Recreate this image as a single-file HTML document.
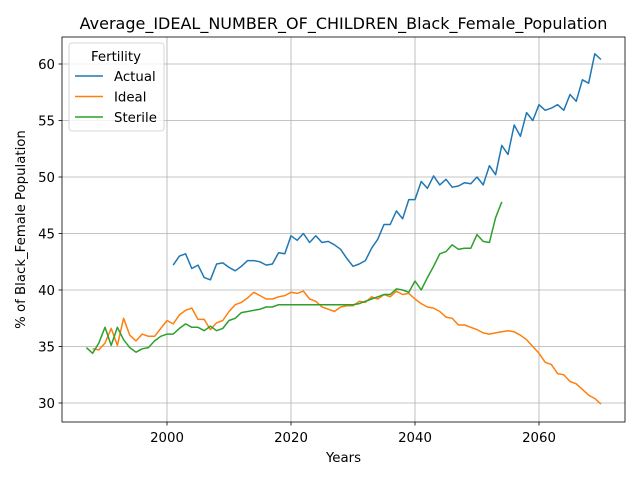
<!DOCTYPE html>
<html><head><meta charset="utf-8"><style>
body{margin:0;background:#fff;font-family:"Liberation Sans","DejaVu Sans",sans-serif;}
svg text{font-family:"DejaVu Sans","Liberation Sans",sans-serif;}
</style></head><body>
<svg id="chart" width="640" height="480" xmlns="http://www.w3.org/2000/svg"></svg>
<script>
const actualStart=2001;
const actualVals=[42.2,43.0,43.2,41.9,42.2,41.1,40.9,42.3,42.4,42.0,41.7,42.1,42.6,42.6,42.5,42.2,42.3,43.3,43.2,44.8,44.4,45.0,44.2,44.8,44.2,44.3,44.0,43.6,42.8,42.1,42.3,42.6,43.7,44.5,45.8,45.8,47.0,46.3,48.0,48.0,49.6,49.0,50.1,49.3,49.8,49.1,49.2,49.5,49.4,50.0,49.3,51.0,50.2,52.8,52.0,54.6,53.6,55.7,55.0,56.4,55.9,56.1,56.4,55.9,57.3,56.7,58.6,58.3,60.9,60.4];
const idealStart=1988;
const idealVals=[34.8,34.7,35.3,36.6,35.1,37.5,36.0,35.5,36.1,35.9,35.9,36.6,37.3,37.0,37.8,38.2,38.4,37.4,37.4,36.5,37.1,37.3,38.1,38.7,38.9,39.3,39.8,39.5,39.2,39.2,39.4,39.5,39.8,39.7,39.9,39.2,39.0,38.5,38.3,38.1,38.5,38.6,38.6,39.0,38.9,39.4,39.2,39.6,39.4,39.9,39.6,39.7,39.2,38.8,38.5,38.4,38.1,37.6,37.5,36.9,36.9,36.7,36.5,36.2,36.1,36.2,36.3,36.4,36.3,36.0,35.6,35.0,34.4,33.6,33.4,32.6,32.5,31.9,31.7,31.2,30.7,30.4,29.9];
const sterileStart=1987;
const sterileVals=[34.9,34.4,35.3,36.7,35.1,36.7,35.6,34.9,34.5,34.8,34.9,35.5,35.9,36.1,36.1,36.6,37.0,36.7,36.7,36.4,36.8,36.4,36.6,37.3,37.5,38.0,38.1,38.2,38.3,38.5,38.5,38.7,38.7,38.7,38.7,38.7,38.7,38.7,38.7,38.7,38.7,38.7,38.7,38.7,38.8,39.0,39.2,39.4,39.6,39.6,40.1,40.0,39.8,40.8,40.0,41.1,42.1,43.2,43.4,44.0,43.6,43.7,43.7,44.9,44.3,44.2,46.4,47.8];
const xTicks=[2000,2020,2040,2060];
const yTicks=[30,35,40,45,50,55,60];
const seriesNames=["Actual","Ideal","Sterile"];
const colors=["#1f77b4","#ff7f0e","#2ca02c"];

const NS="http://www.w3.org/2000/svg";
const svg=document.getElementById('chart');
const L=62,R=625,T=37,B=422;
const X=v=>167+(v-2000)*6.2;
const Y=v=>64+(60-v)*11.3;
function mk(tag,attrs,parent){const e=document.createElementNS(NS,tag);for(const k in attrs)e.setAttribute(k,attrs[k]);(parent||svg).appendChild(e);return e;}

const grid=mk('g',{});


xTicks.forEach(t=>{
  const l=mk('line',{x1:X(t),x2:X(t),y1:T,y2:B,stroke:'#b0b0b0','stroke-width':0.8},grid);
  
  
  const tk=mk('line',{x1:X(t),x2:X(t),y1:B,y2:B+3.5,stroke:'#000','stroke-width':0.8});
  
  
  const tx=mk('text',{x:X(t),y:B+20,'text-anchor':'middle','font-size':13.3,fill:'#000'});
  tx.textContent=t;
  
  
});
yTicks.forEach(t=>{
  const l=mk('line',{x1:L,x2:R,y1:Y(t),y2:Y(t),stroke:'#b0b0b0','stroke-width':0.8},grid);
  
  
  const tk=mk('line',{x1:L-3.5,x2:L,y1:Y(t),y2:Y(t),stroke:'#000','stroke-width':0.8});
  
  
  const tx=mk('text',{x:L-7,y:Y(t)+5,'text-anchor':'end','font-size':13.3,fill:'#000'});
  tx.textContent=t;
  
  
});

const all=[[actualStart,actualVals],[idealStart,idealVals],[sterileStart,sterileVals]];
all.forEach((s,i)=>{
  const pts=s[1].map((v,j)=>X(s[0]+j).toFixed(1)+','+Y(v).toFixed(1)).join(' ');
  const p=mk('polyline',{points:pts,fill:'none',stroke:colors[i],'stroke-width':1.5,'stroke-linejoin':'round'});
  
  
});

const frame=mk('rect',{x:L,y:T,width:R-L,height:B-T,fill:'none',stroke:'#000','stroke-width':0.8});



const title=mk('text',{x:(L+R)/2,y:29,'text-anchor':'middle','font-size':16,fill:'#000'});
title.textContent='Average_IDEAL_NUMBER_OF_CHILDREN_Black_Female_Population';


const xt=mk('text',{x:(L+R)/2,y:462,'text-anchor':'middle','font-size':13.3,fill:'#000'});
xt.textContent='Years';


const yt=mk('text',{x:0,y:0,'text-anchor':'middle','font-size':13.3,fill:'#000',transform:'translate(25,'+((T+B)/2)+') rotate(-90)'});
yt.textContent='% of Black_Female Population';



const lg=mk('g',{});


mk('rect',{x:69,y:43,width:95,height:88,rx:3,fill:'#fff','fill-opacity':0.8,stroke:'#ccc','stroke-width':0.8},lg);
const lt=mk('text',{x:116,y:61,'text-anchor':'middle','font-size':13.3,fill:'#000'},lg);
lt.textContent='Fertility';


seriesNames.forEach((n,i)=>{
  const y=76+i*20.5;
  const g=mk('g',{},lg);
  
  
  mk('line',{x1:75,x2:103,y1:y,y2:y,stroke:colors[i],'stroke-width':1.5},g);
  const t=mk('text',{x:114,y:y+5,'font-size':13.3,fill:'#000'},g);
  t.textContent=n;
});
</script>
</body></html>
